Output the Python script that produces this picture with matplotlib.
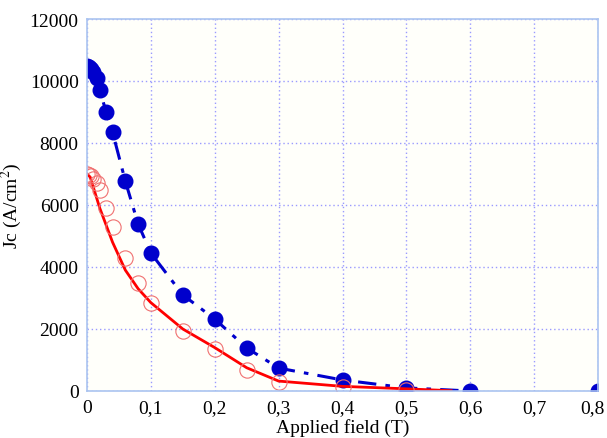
import matplotlib
matplotlib.use("Agg")
import matplotlib.pyplot as plt
import matplotlib.transforms as mtransforms
from matplotlib.ticker import FuncFormatter

plt.rcParams["font.family"] = ["Liberation Serif", "DejaVu Serif"]
plt.rcParams["mathtext.fontset"] = "stix"

# blue series (filled dots, dash-dot line)
field_blue = [0.0, 0.003, 0.006, 0.01, 0.015, 0.02, 0.03, 0.04, 0.06, 0.08, 0.1,
              0.15, 0.2, 0.25, 0.3, 0.4, 0.5, 0.6, 0.8]
jc_blue = [10500, 10450, 10400, 10300, 10100, 9700, 9000, 8350, 6770, 5390, 4450,
           3100, 2320, 1390, 740, 355, 100, 0, 0]

# red series (open circles) and its fitted line
field_red = [0.0, 0.003, 0.006, 0.01, 0.015, 0.02, 0.03, 0.04, 0.06, 0.08, 0.1,
             0.15, 0.2, 0.25, 0.3, 0.4, 0.5]
jc_red = [7000, 6980, 6950, 6850, 6700, 6500, 5900, 5300, 4300, 3500, 2850,
          1950, 1350, 680, 300, 120, 30]
field_fit = [0.0, 0.005, 0.02, 0.04, 0.06, 0.08, 0.1, 0.15, 0.2, 0.25, 0.3, 0.4, 0.5, 0.57]
jc_fit = [7000, 6900, 5900, 4800, 3900, 3300, 2850, 2000, 1400, 750, 320, 150, 70, 10]

fig = plt.figure(figsize=(6.07, 4.39), dpi=100)
ax = fig.add_axes([87 / 607, 47 / 439, 511 / 607, 372 / 439])
ax.set_facecolor("#fffffa")

ax.plot(field_blue[:-1], jc_blue[:-1], color="#0000cc", lw=2.2, ls=(0, (6, 3, 1.5, 3)))
ax.plot(field_blue, jc_blue, ls="none", marker="o", ms=10.5, color="#0000cc")
ax.plot(field_fit, jc_fit, color="#ff0000", lw=2)
ax.plot(field_red, jc_red, ls="none", marker="o", ms=11, mfc="none",
        mec="#f07070", mew=0.8)

ax.set_xlim(0, 0.8)
ax.set_ylim(0, 12000)
ax.set_xticks([i / 10 for i in range(9)])
ax.set_yticks(range(0, 12001, 2000))
ax.xaxis.set_major_formatter(FuncFormatter(lambda v, p: "0" if v == 0 else f"{v:.1f}".replace(".", ",")))
ax.grid(True, color="#9a9aff", ls=(0, (1, 2)), lw=1)
ax.tick_params(length=0, labelsize=14, pad=6)
for s in ax.spines.values():
    s.set_color("#aac4f0")
    s.set_linewidth(1.2)

# keep the last tick label inside the figure
fig.canvas.draw()
last = ax.get_xticklabels()[-1]
last.set_transform(last.get_transform() + mtransforms.ScaledTranslation(-6 / 100, 0, fig.dpi_scale_trans))

ax.set_xlabel("Applied field (T)", fontsize=14, labelpad=1)
ax.set_ylabel("Jc (A/cm$^2$)", fontsize=14, labelpad=4)

fig.savefig("out.png", dpi=100)
